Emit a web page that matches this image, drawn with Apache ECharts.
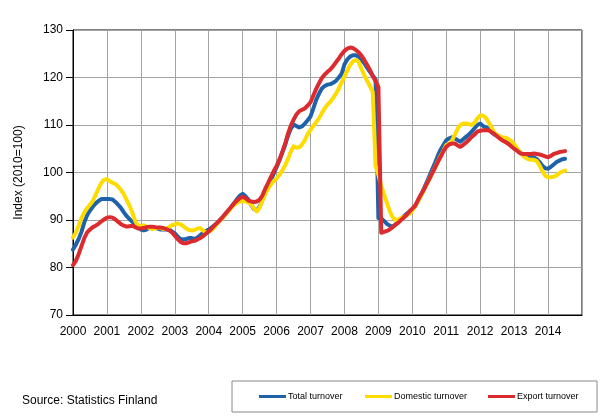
<!DOCTYPE html>
<html>
<head>
<meta charset="utf-8">
<script src="https://cdn.jsdelivr.net/npm/echarts@6/dist/echarts.min.js"></script>
<style>
  html, body { margin: 0; padding: 0; background: #fff; }
  #chart { width: 607px; height: 418px; }
</style>
</head>
<body>
<div id="chart"></div>
<script>
/* monthly index series, 2010=100, starting January 2000 */
var startYear = 2000;
var seriesNames = ['Total turnover', 'Domestic turnover', 'Export turnover'];
var seriesColors = ['#1f62a9', '#ffdc00', '#dc2b2e'];
var yearTicks = [2000, 2001, 2002, 2003, 2004, 2005, 2006, 2007, 2008, 2009, 2010, 2011, 2012, 2013, 2014];

var totalTurnover = [
    83.8, 84.8, 86, 87.5, 89.5, 91, 92, 92.8, 93.5, 94, 94.4, 94.4,
    94.4, 94.4, 94.3, 93.8, 93.2, 92.5, 91.6, 90.8, 90.2, 89.6, 89.2, 88.5,
    88, 87.8, 88, 88.3, 88.5, 88.4, 88.2, 88, 88, 88, 88, 87.6,
    87.2, 86.5, 86, 85.9, 86, 86.2, 86.2, 86, 86.3, 86.8, 87.3, 87.7,
    88, 88.4, 88.9, 89.4, 90, 90.6, 91.3, 92, 92.8, 93.6, 94.4, 95.1,
    95.5, 95, 94.3, 93.2, 92.3, 92, 92.8, 94.3, 95.8, 97.1, 98.4, 99.8,
    101.1, 102.6, 104.2, 105.8, 107.7, 109.2, 110.1, 109.8, 109.5, 109.7, 110.3, 111,
    111.8, 113.5, 115.3, 116.6, 117.7, 118.2, 118.5, 118.6, 118.9, 119.3, 120, 120.8,
    122.8, 123.8, 124.4, 124.7, 124.7, 124.4, 123.8, 123, 122.1, 121.2, 120.4, 119.6,
    90.4, 90.3, 89.8, 89.2, 88.8, 88.6, 89, 89.6, 90.2, 90.8, 91.3, 91.8,
    92.3, 93, 94, 95.2, 96.5, 97.8, 99.2, 100.6, 102, 103.5, 104.8, 105.8,
    106.8, 107.2, 107.4, 107.2, 106.8, 106.5, 107, 107.5, 108, 108.6, 109.3, 110,
    110.3, 109.8, 109.5, 109.2, 108.5, 108, 107.8, 107.4, 107.2, 107, 106.6, 106.1,
    105.6, 104.9, 104.3, 103.7, 103.4, 103.2, 103.2, 103.2, 102.8, 102.2, 101.4, 100.9,
    100.8, 101.2, 101.7, 102.2, 102.5, 102.8, 102.9
];

var domesticTurnover = [
    86.3, 87.3, 88.8, 90.4, 91.6, 92.5, 93.2, 94, 95.3, 96.6, 97.8, 98.5,
    98.6, 98.2, 97.8, 97.6, 97, 96.3, 95.4, 94.2, 93, 91.5, 89.8, 88.8,
    88.7, 88.9, 88.6, 88.3, 88.1, 88.2, 88.4, 88.3, 88.1, 88.2, 88.5, 88.9,
    89.1, 89.3, 89.1, 88.7, 88.2, 87.9, 87.8, 87.9, 88.2, 88.3, 87.8, 87.3,
    87.5, 87.9, 88.5, 89.2, 89.9, 90.5, 91.2, 91.9, 92.6, 93.2, 93.6, 93.9,
    94, 93.9, 93.7, 93.3, 92.4, 91.8, 92.6, 94.1, 95.5, 96.6, 97.5, 98.2,
    98.7, 99.5, 100.4, 101.5, 102.8, 104.4, 105.5, 105.2, 105.3, 105.9, 106.8, 108.1,
    109, 109.8, 110.6, 111.4, 112.5, 113.5, 114.3, 114.9, 115.7, 116.6, 117.7, 119,
    120.2, 121.5, 122.6, 123.4, 123.7, 123.3, 121.8, 120.5, 119.3, 118.2, 117, 101.5,
    99.5, 97.2, 95.4, 93.6, 91.9, 90.6, 90, 90.1, 90.4, 90.7, 91, 91.3,
    92, 92.9, 93.9, 95, 96.2, 97.4, 98.6, 99.8, 101, 102.3, 103.5, 104.6,
    105.8, 106, 106.7, 107.9, 109.2, 110, 110.3, 110.3, 110.2, 110, 110.5, 111.4,
    112, 112, 111.5, 110.6, 109.5, 108.4, 107.9, 107.6, 107.4, 107.3, 107, 106.6,
    106, 105.1, 104.3, 103.6, 103.1, 102.8, 102.7, 102.7, 102.4, 101.5, 100.3, 99.3,
    99, 99, 99.1, 99.4, 99.9, 100.2, 100.4
];

var exportTurnover = [
    80.5, 81.4, 82.8, 84.5, 86.2, 87.4, 88, 88.5, 88.8, 89.2, 89.7, 90.1,
    90.5, 90.6, 90.5, 90.1, 89.6, 89.1, 88.8, 88.6, 88.7, 88.8, 88.5, 88.2,
    88.2, 88.3, 88.5, 88.6, 88.6, 88.5, 88.4, 88.4, 88.3, 88.1, 87.8, 87.4,
    86.7, 86, 85.4, 85.1, 85.1, 85.3, 85.5, 85.6, 85.9, 86.2, 86.6, 87.1,
    87.6, 88.2, 88.8, 89.4, 90, 90.7, 91.4, 92.1, 92.8, 93.5, 94.1, 94.6,
    94.9, 94.6, 94.1, 93.9, 93.8, 93.9, 94.3, 95.2, 96.6, 97.8, 99.1, 100.3,
    101.4, 102.7, 104.3, 106, 108.1, 109.8, 111.1, 112.2, 112.9, 113.2, 113.5, 114.1,
    114.8, 116.2, 117.6, 118.8, 119.9, 120.6, 121.2, 121.7, 122.4, 123.2, 124, 124.9,
    125.6, 126.1, 126.3, 126.2, 125.8, 125.3, 124.6, 123.7, 122.7, 121.6, 120.3, 119.2,
    118, 87.3, 87.5, 87.7, 88, 88.5, 89, 89.4, 90, 90.5, 91.1, 91.8,
    92.4, 93, 94.2, 95.3, 96.3, 97.5, 98.6, 99.8, 101, 102.2, 103.3, 104.5,
    105.4, 105.9, 106.1, 106.1, 105.7, 105.4, 105.8, 106.3, 106.9, 107.5, 108, 108.6,
    108.8, 108.9, 108.9, 108.9, 108.5, 108.1, 107.6, 107.1, 106.7, 106.4, 106, 105.5,
    105, 104.6, 104.1, 103.9, 103.9, 103.9, 103.9, 104, 103.9, 103.8, 103.6, 103.4,
    103.2, 103.5, 103.9, 104.1, 104.3, 104.4, 104.5
];

var yMin = 70, yMax = 130, yStep = 10;

// 月度数据 -> [年份小数, 值]
var toPoints = function (values) {
    return values.map(function (v, i) {
        return [startYear + i / 12, v];
    });
};

var allValues = [totalTurnover, domesticTurnover, exportTurnover];
var font = '"Liberation Sans", Arial, sans-serif';

var chart = echarts.init(document.getElementById('chart'));

var series = allValues.map(function (vals, k) {
    return {
        name: seriesNames[k],
        type: 'line',
        data: toPoints(vals),
        showSymbol: false,
        symbol: 'none',
        smooth: false,
        lineStyle: { width: 4, color: seriesColors[k], cap: 'round', join: 'round' },
        itemStyle: { color: seriesColors[k] },
        z: 2 + k
    };
});

// 图例，每项单独放置
var legendLeft = [259, 365, 488];
var legends = seriesNames.map(function (n, k) {
    return {
        data: [n],
        left: legendLeft[k],
        top: 392,
        padding: 0,
        icon: 'rect',
        itemWidth: 27,
        itemHeight: 3,
        textStyle: { fontSize: 9, fontFamily: font, color: '#000', padding: [0, 0, 0, -3] }
    };
});

chart.setOption({
    animation: false,
    backgroundColor: '#fff',
    grid: {
        left: 73, right: 25, top: 30, bottom: 103,
        show: true, borderColor: '#000', borderWidth: 1, backgroundColor: 'transparent'
    },
    legend: legends,
    xAxis: {
        type: 'value',
        min: yearTicks[0],
        max: yearTicks[yearTicks.length - 1] + 1,
        interval: 1,
        axisLine: { show: true, lineStyle: { color: '#000', width: 1 } },
        axisTick: { show: false },
        axisLabel: {
            margin: 11, fontSize: 12, fontFamily: font, color: '#000',
            formatter: function (v) {
                return yearTicks.indexOf(Math.round(v)) >= 0 ? String(Math.round(v)) : '';
            }
        },
        splitLine: { show: true, lineStyle: { color: '#a3a3a3', width: 1 } }
    },
    yAxis: {
        type: 'value',
        min: yMin, max: yMax, interval: yStep,
        name: 'Index (2010=100)',
        nameLocation: 'middle',
        nameGap: 48,
        nameRotate: 90,
        nameTextStyle: { fontSize: 12, fontFamily: font, color: '#000' },
        axisLine: { show: true, lineStyle: { color: '#000', width: 1 } },
        axisTick: { show: true, length: 7, inside: false, lineStyle: { color: '#000' } },
        axisLabel: { margin: 10, fontSize: 12, fontFamily: font, color: '#000' },
        splitLine: { show: true, lineStyle: { color: '#a3a3a3', width: 1 } }
    },
    graphic: [
        {
            type: 'rect',
            shape: { x: 232, y: 381, width: 365, height: 31 },
            style: { fill: 'none', stroke: '#888', lineWidth: 1 },
            silent: true
        },
        {
            type: 'text',
            left: 22, top: 395,
            style: { text: 'Source: Statistics Finland', fontSize: 12, fontFamily: font, fill: '#000' }
        }
    ],
    series: series
});
</script>
</body>
</html>
